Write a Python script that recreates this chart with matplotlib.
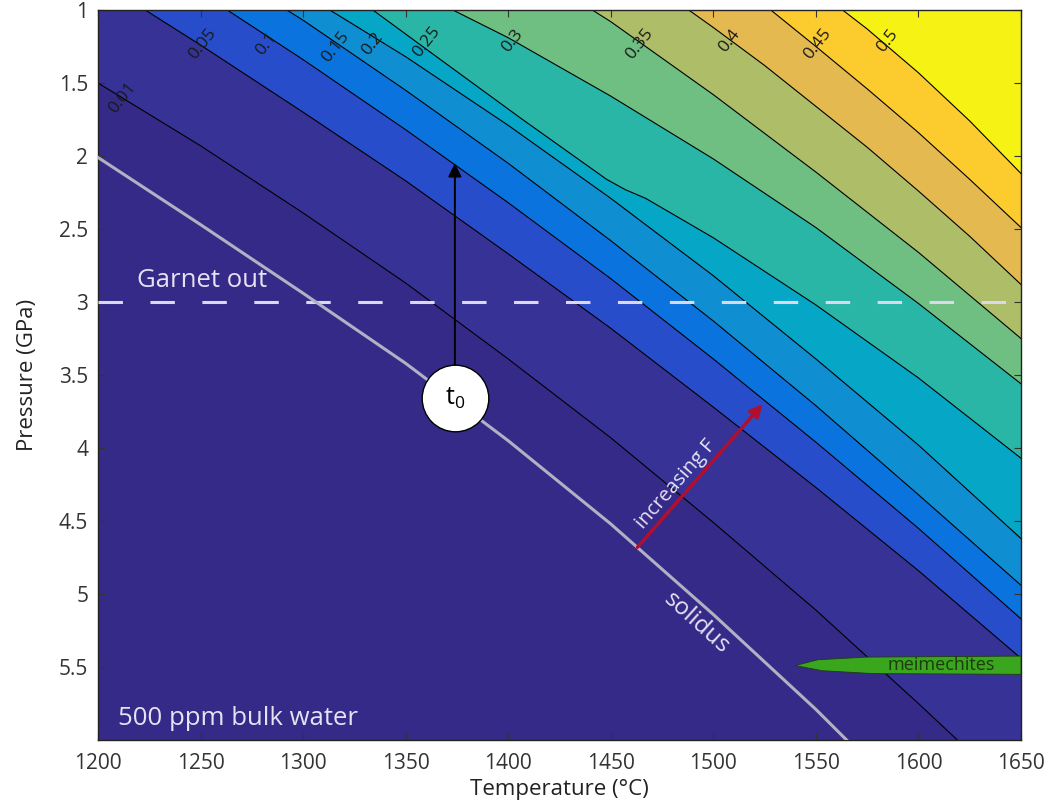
import matplotlib.pyplot as plt
from matplotlib.patches import Polygon

plt.rcParams['font.family'] = ['Open Sans', 'DejaVu Sans']

# melt fraction contours (temperature in C, pressure in GPa)
levels = [0.01, 0.05, 0.1, 0.15, 0.2, 0.25, 0.3, 0.35, 0.4, 0.45, 0.5]
level_labels = ['0.01', '0.05', '0.1', '0.15', '0.2', '0.25', '0.3', '0.35', '0.4', '0.45', '0.5']

f001_T = [1200, 1250, 1300, 1350, 1400, 1450, 1500, 1550, 1600, 1619]
f001_P = [1.50, 1.93, 2.39, 2.87, 3.39, 3.93, 4.51, 5.11, 5.75, 6.00]
f005_T = [1223, 1250, 1300, 1350, 1400, 1450, 1500, 1550, 1600, 1650]
f005_P = [1.00, 1.24, 1.70, 2.17, 2.67, 3.18, 3.72, 4.27, 4.84, 5.44]
f010_T = [1263, 1300, 1350, 1400, 1450, 1500, 1550, 1600, 1650]
f010_P = [1.00, 1.34, 1.82, 2.32, 2.84, 3.39, 3.96, 4.55, 5.17]
f015_T = [1292, 1300, 1350, 1400, 1450, 1500, 1550, 1600, 1650]
f015_P = [1.00, 1.07, 1.55, 2.05, 2.58, 3.13, 3.71, 4.32, 4.94]
f020_T = [1313, 1350, 1400, 1450, 1500, 1550, 1600, 1650]
f020_P = [1.00, 1.32, 1.79, 2.29, 2.82, 3.39, 3.98, 4.62]
f025_T = [1334, 1367, 1406, 1448, 1457, 1467, 1500, 1550, 1600, 1650]
f025_P = [1.00, 1.34, 1.74, 2.16, 2.23, 2.29, 2.56, 3.02, 3.52, 4.07]
f030_T = [1373, 1400, 1450, 1500, 1550, 1600, 1650]
f030_P = [1.00, 1.19, 1.59, 2.02, 2.49, 3.01, 3.56]
f035_T = [1441, 1450, 1500, 1550, 1600, 1650]
f035_P = [1.00, 1.08, 1.58, 2.11, 2.66, 3.25]
f040_T = [1488, 1500, 1525, 1550, 1575, 1600, 1625, 1650]
f040_P = [1.00, 1.12, 1.38, 1.66, 1.94, 2.24, 2.55, 2.88]
f045_T = [1528, 1550, 1575, 1600, 1625, 1650]
f045_P = [1.00, 1.25, 1.54, 1.84, 2.16, 2.49]
f050_T = [1563, 1575, 1600, 1625, 1650]
f050_P = [1.00, 1.13, 1.43, 1.76, 2.12]

contour_T = [f001_T, f005_T, f010_T, f015_T, f020_T, f025_T, f030_T, f035_T, f040_T, f045_T, f050_T]
contour_P = [f001_P, f005_P, f010_P, f015_P, f020_P, f025_P, f030_P, f035_P, f040_P, f045_P, f050_P]

# where the contour labels sit
label_T = [1212, 1251, 1282, 1316, 1334, 1360, 1402, 1464, 1508, 1551, 1585]
label_P = [1.60, 1.23, 1.23, 1.25, 1.23, 1.22, 1.21, 1.23, 1.21, 1.23, 1.21]

solidus_T = [1200, 1250, 1300, 1350, 1400, 1450, 1500, 1550, 1565]
solidus_P = [2.01, 2.47, 2.94, 3.42, 3.95, 4.52, 5.14, 5.79, 6.00]

garnet_out_P = 3.0
t0_T = 1374
t0_P = 3.66
t0_arrow_P = 2.05
incF_T = [1463, 1524]
incF_P = [4.68, 3.70]

meim_T = [1540, 1551, 1575, 1650, 1650, 1578, 1553, 1540]
meim_P = [5.49, 5.45, 5.432, 5.425, 5.55, 5.545, 5.525, 5.49]

# parula colours, one per band (below first level, then above each level)
band_colors = ['#352a87', '#363296', '#284dcb', '#0b73dd', '#108ed2', '#06a7c6',
               '#2ab6a7', '#6ebf81', '#aebd67', '#e4b950', '#fccc2f', '#f6f213']
text_light = '#e6e2f3'


def upper_region(T, P):
    # polygon covering everything to the upper right of one contour line
    pts = list(zip(T, P))
    T0 = T[0] if P[0] <= 1.0 else 1100
    pts += [(2000, P[-1]), (2000, 0.0), (T0, 0.0), (T0, P[0])]
    return pts


fig = plt.figure(figsize=(10.49, 8.05), dpi=100)
ax = fig.add_axes([0.0934, 0.0807, 0.8799, 0.9069])
ax.set_facecolor(band_colors[0])

for i in range(len(levels)):
    ax.add_patch(Polygon(upper_region(contour_T[i], contour_P[i]), closed=True,
                         facecolor=band_colors[i + 1], edgecolor='none', zorder=1))
    ax.plot(contour_T[i], contour_P[i], color='black', lw=0.8, zorder=2)
    ax.text(label_T[i], label_P[i], level_labels[i], rotation=52, ha='center', va='center',
            fontsize=12.5, color='#1a1a1a', zorder=3)

# garnet out and solidus
ax.plot([1200, 1650], [garnet_out_P, garnet_out_P], color='#dcd8ec', lw=2.2,
        dashes=(8, 9), zorder=4)
ax.text(1219, 2.94, 'Garnet out', color=text_light, fontsize=18.5, ha='left', va='bottom', zorder=8)
ax.plot(solidus_T, solidus_P, color='#b3b0c4', lw=2.2, zorder=4)
ax.text(1492, 5.2, 'solidus', color=text_light, fontsize=17.5, rotation=-42,
        ha='center', va='center', zorder=8)

# meimechites field
ax.add_patch(Polygon(list(zip(meim_T, meim_P)), closed=True, facecolor='#3aa61e',
                     edgecolor='#1f3d10', lw=0.6, zorder=5))
ax.text(1611, 5.488, 'meimechites', color='#1d3a10', fontsize=13, ha='center', va='center', zorder=8)

# arrows
ax.annotate('', xy=(t0_T, t0_arrow_P), xytext=(t0_T, t0_P),
            arrowprops=dict(arrowstyle='-|>', color='black', lw=1.4, mutation_scale=20,
                            shrinkA=0, shrinkB=0), zorder=6)
ax.annotate('', xy=(incF_T[1], incF_P[1]), xytext=(incF_T[0], incF_P[0]),
            arrowprops=dict(arrowstyle='-|>', color='#b01030', lw=2.5, mutation_scale=18,
                            shrinkA=0, shrinkB=0), zorder=6)
ax.text(1482, 4.25, 'increasing F', color=text_light, fontsize=14.5, rotation=49,
        ha='center', va='center', zorder=8)

ax.scatter([t0_T], [t0_P], s=2300, c='white', edgecolors='black', linewidths=1, zorder=7)
ax.text(t0_T, t0_P, 't$_{\\mathregular{0}}$', fontsize=18, ha='center', va='center', zorder=8)

ax.text(1210, 5.9, '500 ppm bulk water', color=text_light, fontsize=18.5, ha='left',
        va='baseline', zorder=8)

ax.set_xlim(1200, 1650)
ax.set_ylim(6, 1)
xticks = [1200, 1250, 1300, 1350, 1400, 1450, 1500, 1550, 1600, 1650]
yticks = [1, 1.5, 2, 2.5, 3, 3.5, 4, 4.5, 5, 5.5]
ax.set_xticks(xticks)
ax.set_xticklabels([str(t) for t in xticks])
ax.set_yticks(yticks)
ax.set_yticklabels([f'{t:g}' for t in yticks])
ax.tick_params(direction='in', top=True, right=True, length=5, width=0.8,
               labelsize=15, colors='#333333')
ax.tick_params(axis='x', pad=9)
ax.tick_params(axis='y', pad=7)
for s in ax.spines.values():
    s.set_linewidth(1.0)
    s.set_color('#222222')

ax.set_xlabel('Temperature (°C)', fontsize=16, color='#222222', labelpad=4)
ax.set_ylabel('Pressure (GPa)', fontsize=16, color='#222222', labelpad=15)

fig.savefig('out.png', dpi=100)
